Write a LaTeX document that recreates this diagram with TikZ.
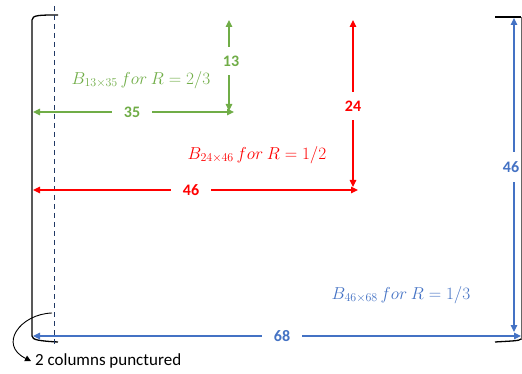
\documentclass[tikz,border=0pt]{standalone}
\usepackage[no-math]{fontspec}
\setmainfont{Carlito}
\usetikzlibrary{arrows.meta}
\definecolor{cgreen}{HTML}{70AD47}
\definecolor{cblue}{HTML}{4472C4}
\definecolor{cred}{HTML}{FF0000}
\definecolor{cnavy}{HTML}{203864}
\tikzset{
  ddim/.style={line width=1.2pt, {Triangle[length=7pt,width=6.5pt]}-{Triangle[length=7pt,width=6.5pt]}},
  hlab/.style={fill=white, inner xsep=12pt, inner ysep=1pt, font=\fontsize{16}{18}\selectfont\bfseries},
  vlab/.style={fill=white, inner xsep=1pt, inner ysep=9pt, font=\fontsize{16}{18}\selectfont\bfseries},
  mtext/.style={inner sep=0pt, font=\fontsize{17}{20}\selectfont},
  brack/.style={line width=1.3pt, black},
}
\begin{document}
\begin{tikzpicture}[x=1pt,y=-1pt]
\useasboundingbox (0,0) rectangle (522,374);
% brackets
\draw[brack] (58,15) .. controls (40,15) and (32,15) .. (32,20) -- (32,336) .. controls (32,340) and (40,341) .. (58,342);
\draw[brack] (495,17) -- (521,17);
\draw[black!60, line width=0.8pt] (521,17) -- (521,340);
\draw[brack] (495,342) .. controls (510,341) and (520,341) .. (521,339);
% dashed line
\draw[cnavy, line width=1.3pt, dash pattern=on 5pt off 4pt] (54.5,6) -- (54.5,345);
% coordinates
\coordinate (gt) at (229,20);
\coordinate (gb) at (229,111);
\coordinate (gl) at (33,112);
\coordinate (gr) at (234,112);
\coordinate (rt) at (353,20);
\coordinate (rb) at (353,187);
\coordinate (rl) at (33,190);
\coordinate (rr) at (358,190);
\coordinate (bt) at (514,18);
\coordinate (bb) at (514,332);
\coordinate (bl) at (33,336);
\coordinate (br) at (521,336);
% green
\draw[ddim, cgreen] (gt) -- (gb);
\draw[ddim, cgreen] (gl) -- (gr);
\node[vlab, text=cgreen] (g13) at (231,61) {13};
\node[hlab, text=cgreen] (g35) at (132,112) {35};
\node[mtext, text=cgreen] (gtxt) at (141,80) {$B_{13\times35}\,for\ R=2/3$};
% red
\draw[ddim, cred] (rt) -- (rb);
\draw[ddim, cred] (rl) -- (rr);
\node[vlab, text=cred] (r24) at (353,106) {24};
\node[hlab, text=cred] (r46) at (191,190) {46};
\node[mtext, text=cred] (rtxt) at (257,155) {$B_{24\times46}\,for\ R=1/2$};
% blue
\draw[ddim, cblue] (bt) -- (bb);
\draw[ddim, cblue] (bl) -- (br);
\node[vlab, text=cblue] (b46) at (511,167) {46};
\node[hlab, text=cblue] (b68) at (282,336) {68};
\node[mtext, text=cblue] (btxt) at (401,295) {$B_{46\times68}\,for\ R=1/3$};
% punctured note
\node[anchor=west, inner sep=0pt, font=\fontsize{17}{20}\selectfont] (note) at (35,361) {2 columns punctured};
\coordinate (cs) at (52,313);
\draw[line width=0.9pt, -{Triangle[length=6pt,width=6pt]}] (cs) .. controls (20,314) and (-2,345) .. ([xshift=-4pt]note.west);
\end{tikzpicture}
\end{document}
